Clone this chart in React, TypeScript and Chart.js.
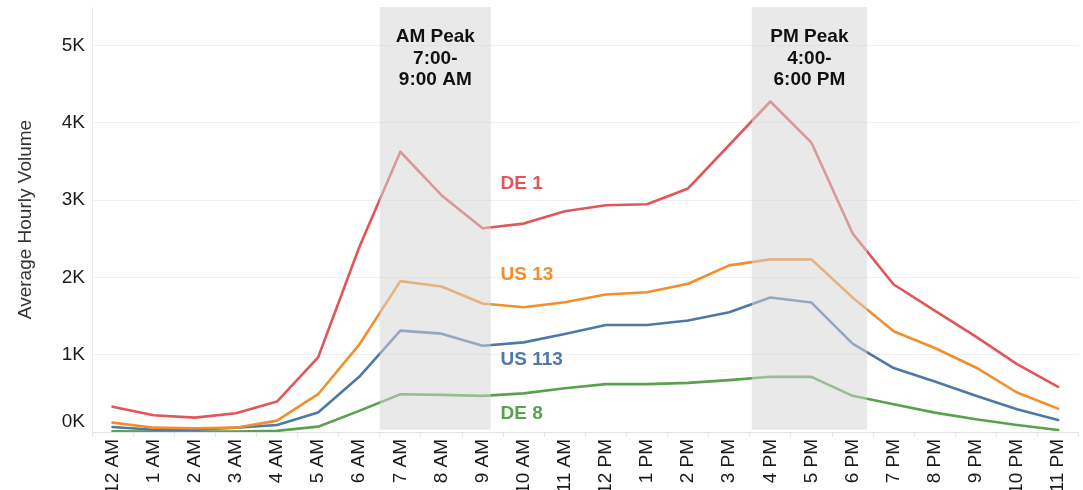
import React, { useEffect, useRef } from 'react';
import { Chart, registerables } from 'chart.js';

Chart.register(...registerables);

const FONT = '"Liberation Sans", Arial, Helvetica, sans-serif';

const hours = [
  '12 AM', '1 AM', '2 AM', '3 AM', '4 AM', '5 AM', '6 AM', '7 AM', '8 AM', '9 AM', '10 AM', '11 AM',
  '12 PM', '1 PM', '2 PM', '3 PM', '4 PM', '5 PM', '6 PM', '7 PM', '8 PM', '9 PM', '10 PM', '11 PM',
];

const de1 = [328, 217, 186, 243, 394, 965, 2390, 3627, 3065, 2636, 2697, 2857, 2935, 2948, 3152, 3714, 4277, 3744, 2571, 1909, 1571, 1234, 879, 584];
const us13 = [121, 56, 48, 56, 147, 489, 1130, 1952, 1883, 1662, 1614, 1680, 1779, 1809, 1918, 2156, 2234, 2234, 1740, 1303, 1087, 835, 511, 303];
const us113 = [65, 30, 30, 56, 91, 251, 714, 1312, 1273, 1117, 1160, 1268, 1385, 1385, 1442, 1550, 1740, 1675, 1143, 827, 653, 468, 294, 156];
const de8 = [10, 5, 5, 5, 15, 69, 273, 489, 480, 468, 500, 567, 619, 619, 636, 671, 714, 714, 468, 359, 251, 165, 91, 26];

const seriesNames = ['DE 1', 'US 13', 'US 113', 'DE 8'];
const seriesColors = ['#e15759', '#f28e2b', '#4e79a7', '#59a14f'];

const yTickValues = [0, 1000, 2000, 3000, 4000, 5000];
const yTickLabels = ['0K', '1K', '2K', '3K', '4K', '5K'];

const peakStarts = [6.5, 15.55];
const peakEnds = [9.2, 18.35];
const peakTexts = [
  ['AM Peak', '7:00-', '9:00 AM'],
  ['PM Peak', '4:00-', '6:00 PM'],
];

// where the series name labels sit (category index, value)
const seriesLabelIndex = 9.46;
const seriesLabelValues = [3208, 2039, 935, 234];

const overlayPlugin = {
  id: 'overlay',
  afterDatasetsDraw(chart: any) {
    const { ctx, chartArea, scales } = chart;
    const x = scales.x;
    const y = scales.y;
    ctx.save();
    peakStarts.forEach((s, i) => {
      const x0 = x.getPixelForValue(s);
      const x1 = x.getPixelForValue(peakEnds[i]);
      const yb = y.getPixelForValue(30);
      ctx.fillStyle = 'rgba(212,212,212,0.52)';
      ctx.fillRect(x0, chartArea.top, x1 - x0, yb - chartArea.top);
      ctx.fillStyle = '#111';
      ctx.font = `bold 19px ${FONT}`;
      ctx.textAlign = 'center';
      ctx.textBaseline = 'middle';
      peakTexts[i].forEach((t, j) => {
        ctx.fillText(t, (x0 + x1) / 2, chartArea.top + 30 + j * 21.5);
      });
    });
    ctx.font = `bold 19px ${FONT}`;
    ctx.textAlign = 'left';
    ctx.textBaseline = 'middle';
    seriesNames.forEach((n, i) => {
      ctx.fillStyle = seriesColors[i];
      ctx.fillText(n, x.getPixelForValue(seriesLabelIndex) - 1, y.getPixelForValue(seriesLabelValues[i]));
    });
    ctx.restore();
  },
  afterDraw(chart: any) {
    const { ctx, chartArea, scales } = chart;
    const y = scales.y;
    ctx.save();
    ctx.font = `19px ${FONT}`;
    ctx.fillStyle = '#1a1a1a';
    ctx.textAlign = 'right';
    ctx.textBaseline = 'middle';
    yTickValues.forEach((v, i) => {
      const py = Math.min(y.getPixelForValue(v), chartArea.bottom - 10);
      ctx.fillText(yTickLabels[i], chartArea.left - 7, py);
    });
    ctx.restore();
  },
};

export default function App() {
  const ref = useRef<HTMLCanvasElement>(null);
  useEffect(() => {
    if (!ref.current) return;
    const series = [de1, us13, us113, de8];
    const chart = new Chart(ref.current, {
      type: 'line',
      data: {
        labels: hours,
        datasets: series.map((d, i) => ({
          label: seriesNames[i],
          data: d,
          borderColor: seriesColors[i],
          backgroundColor: seriesColors[i],
          borderWidth: 2.6,
          pointRadius: 0,
          tension: 0,
          borderJoinStyle: 'round' as const,
          borderCapStyle: 'round' as const,
        })),
      },
      options: {
        animation: false,
        responsive: false,
        layout: { padding: { top: 7, right: 4, left: 0, bottom: 0 } },
        plugins: { legend: { display: false }, tooltip: { enabled: false } },
        scales: {
          x: {
            type: 'category',
            offset: true,
            grid: { offset: true, drawOnChartArea: false, drawTicks: true, tickLength: 5, color: '#e6e6e6' },
            border: { color: '#e3e3e3' },
            ticks: {
              autoSkip: false,
              maxRotation: 90,
              minRotation: 90,
              padding: 2,
              color: '#1a1a1a',
              font: { size: 19, family: FONT },
            },
            afterFit(s: any) { s.height = 58; },
          },
          y: {
            min: 0,
            max: 5500,
            afterBuildTicks(s: any) { s.ticks = yTickValues.map((v) => ({ value: v })); },
            ticks: { display: false },
            grid: { color: '#f0f0f0', drawTicks: false },
            border: { color: '#ececec' },
            title: {
              display: true,
              text: 'Average Hourly Volume',
              color: '#333',
              font: { size: 19, family: FONT },
              padding: { top: 14, bottom: 0 },
            },
            afterFit(s: any) { s.width = 92; },
          },
        },
      },
      plugins: [overlayPlugin],
    });
    return () => chart.destroy();
  }, []);
  return (
    <div style={{ position: 'absolute', left: 0, top: 0, width: 1083, height: 490, background: '#fff' }}>
      <canvas ref={ref} width={1083} height={490} style={{ display: 'block' }} />
    </div>
  );
}
